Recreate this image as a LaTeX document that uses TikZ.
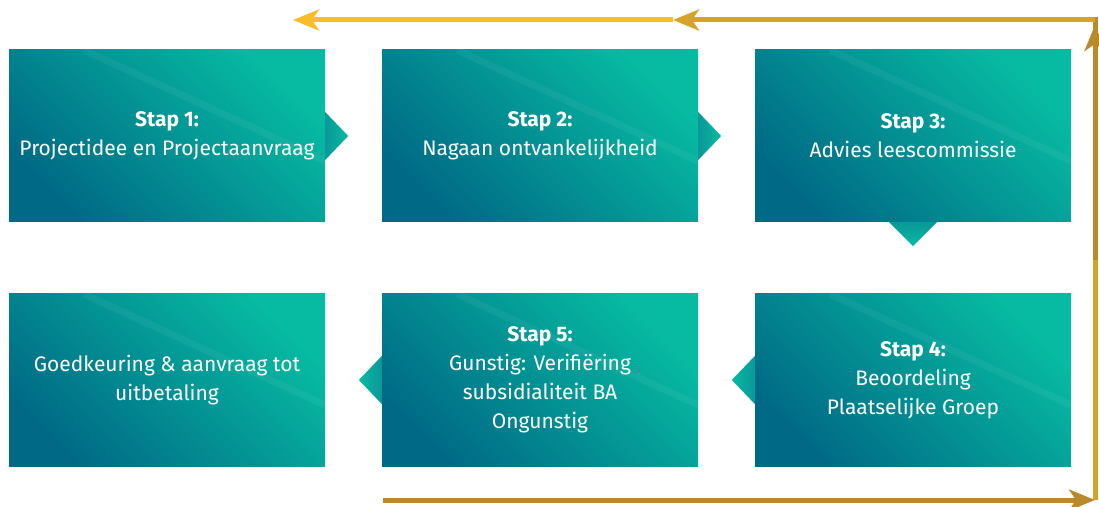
\documentclass[tikz,border=0pt]{standalone}
\usepackage{fontspec}
\setmainfont{Fira Sans}
\usetikzlibrary{arrows.meta}

\definecolor{tealdark}{HTML}{006A86}
\definecolor{teallight}{HTML}{07BBA2}
\definecolor{tealmid}{HTML}{0A9898}
\definecolor{goldbrown}{HTML}{B98A2C}
\definecolor{goldmid}{HTML}{D6A328}
\definecolor{goldyellow}{HTML}{F8BD28}

\begin{document}
\begin{tikzpicture}[x=1pt,y=1pt]
   \tikzset{StapBox/.style={rectangle, minimum width=316pt, minimum height=172pt,
       inner sep=0pt, align=center, text=white,
       font=\fontsize{21}{29}\selectfont,
       top color=teallight, bottom color=tealdark, shading angle=-45,
       path picture={\draw[white, opacity=0.05, line width=7pt]
         ([xshift=75pt]path picture bounding box.north west) --
         ([yshift=-25pt]path picture bounding box.east);}},
     FlowLine/.style={line width=5pt, -{Stealth[length=26pt, width=21pt, inset=7pt]}}}
   \useasboundingbox (0,0) rectangle (1099,506);
   % boxes
   \node[StapBox] (s1) at (167,370) {\textbf{Stap 1:}\\Projectidee en Projectaanvraag};
   \node[StapBox] (s2) at (540,370) {\textbf{Stap 2:}\\Nagaan ontvankelijkheid};
   \node[StapBox] (s3) at (913,370) {\textbf{Stap 3:}\\Advies leescommissie};
   \node[StapBox] (s4) at (913,126) {\textbf{Stap 4:}\\Beoordeling\\Plaatselijke Groep};
   \node[StapBox] (s5) at (540,126) {\textbf{Stap 5:}\\Gunstig: Verifiëring\\subsidialiteit BA\\Ongunstig};
   \node[StapBox] (s6) at (167,126) {Goedkeuring \& aanvraag tot\\uitbetaling};
   % pointers
   \shade[left color=tealmid, right color=teallight]
     ([yshift=24pt]s1.east) -- ([xshift=23pt]s1.east) -- ([yshift=-24pt]s1.east) -- cycle;
   \shade[left color=tealmid, right color=teallight]
     ([yshift=24pt]s2.east) -- ([xshift=23pt]s2.east) -- ([yshift=-24pt]s2.east) -- cycle;
   \shade[top color=tealmid, bottom color=teallight]
     ([xshift=-24pt]s3.south) -- ([yshift=-24pt]s3.south) -- ([xshift=24pt]s3.south) -- cycle;
   \shade[left color=teallight, right color=tealmid]
     ([yshift=24pt]s4.west) -- ([xshift=-23pt]s4.west) -- ([yshift=-24pt]s4.west) -- cycle;
   \shade[left color=teallight, right color=tealmid]
     ([yshift=24pt]s5.west) -- ([xshift=-23pt]s5.west) -- ([yshift=-24pt]s5.west) -- cycle;
   % loop back
   \coordinate (c-start) at (383,6);
   \coordinate (c-br) at (1095,6);
   \coordinate (c-half) at (1095,246);
   \coordinate (c-tr) at (1095,486);
   \coordinate (c-up) at (1095,481);
   \coordinate (c-mid) at (673,486);
   \coordinate (c-end) at (293,486);
   \draw[line width=5pt, goldmid] (c-br) -- (c-half);
   \draw[line width=5pt, goldbrown] (c-half) -- (c-tr);
   \draw[FlowLine, goldbrown] (c-half) -- (c-up);
   \draw[FlowLine, goldbrown] (c-start) -- (c-br);
   \draw[line width=5pt, goldbrown, line cap=rect] (c-tr) -- ([xshift=-30pt]c-tr);
   \draw[FlowLine, goldmid] (c-tr) -- (c-mid);
   \draw[FlowLine, goldyellow] (c-mid) -- (c-end);
\end{tikzpicture}
\end{document}
